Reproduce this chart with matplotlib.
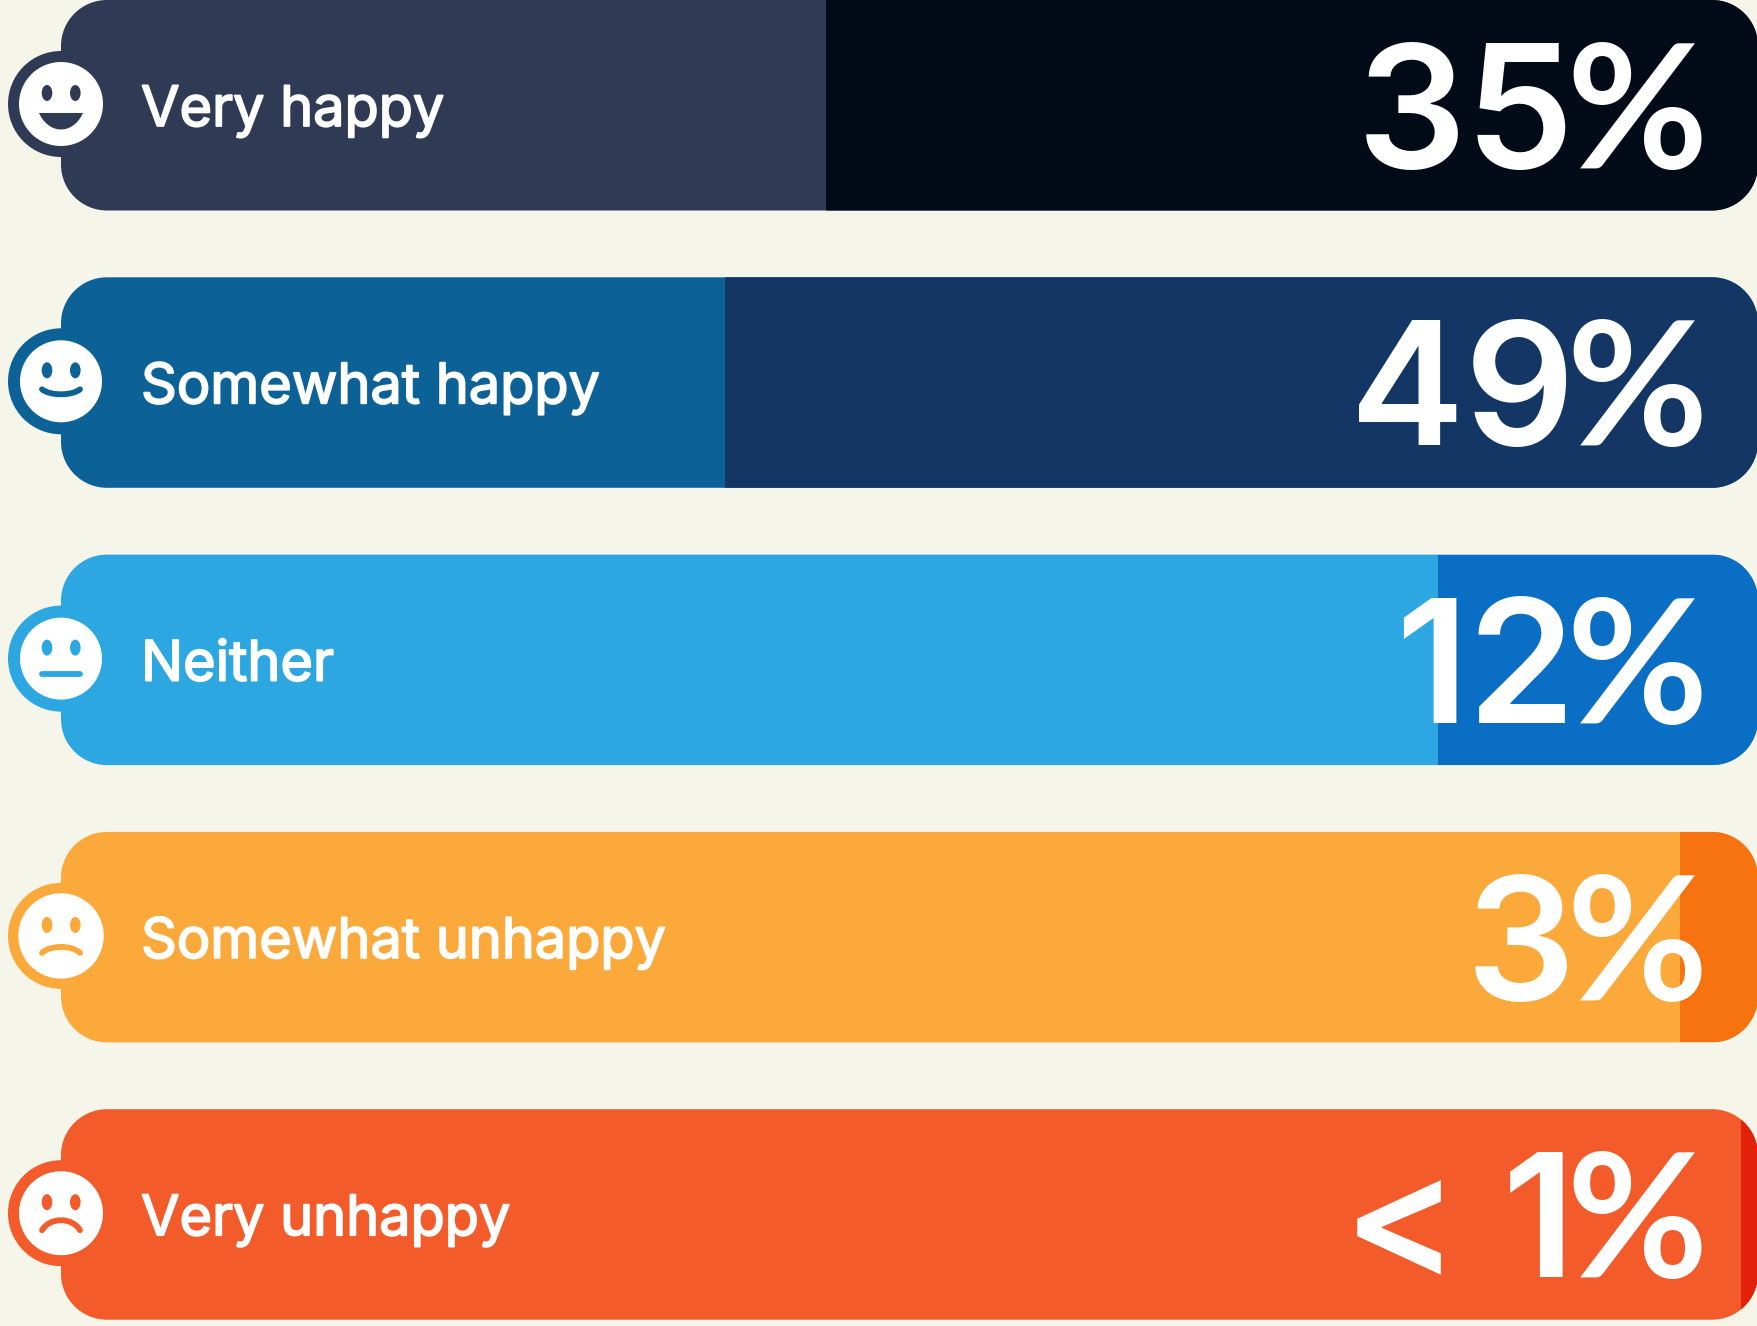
import matplotlib
matplotlib.use("Agg")
import matplotlib.pyplot as plt
import matplotlib.patheffects as pe
from matplotlib.patches import Circle, Ellipse, PathPatch
from matplotlib.path import Path

categories = ["Very happy", "Somewhat happy", "Neither", "Somewhat unhappy", "Very unhappy"]
value_labels = ["35%", "49%", "12%", "3%", "< 1%"]
# width of the darker end of each bar as a share of the bar
dark_share = [0.549, 0.609, 0.1885, 0.046, 0.010]
moods = ["grin", "smile", "flat", "sad", "frown"]

light_colors = ["#2F3B54", "#0C6197", "#2CA7E2", "#FBA93B", "#F35B2B"]
dark_colors = ["#040B18", "#133665", "#0A6FC4", "#F6730F", "#E3210A"]
BG = "#F5F5EA"

W, H = 1758, 1326
LEFT, RIGHT = 61, 1758
BAR_H, PITCH, RAD = 210.5, 277.3, 46
FIRST_TOP = 0
FACE_R = [42, 41, 41, 42.7, 42]
HALO_R = 53
KAPPA = 0.5523


def rounded(x0, y0, x1, y1, r):
    k = r * (1 - KAPPA)
    v = [(x0 + r, y0), (x1 - r, y0),
         (x1 - k, y0), (x1, y0 + k), (x1, y0 + r),
         (x1, y1 - r),
         (x1, y1 - k), (x1 - k, y1), (x1 - r, y1),
         (x0 + r, y1),
         (x0 + k, y1), (x0, y1 - k), (x0, y1 - r),
         (x0, y0 + r),
         (x0, y0 + k), (x0 + k, y0), (x0 + r, y0),
         (x0 + r, y0)]
    c = [Path.MOVETO, Path.LINETO,
         Path.CURVE4, Path.CURVE4, Path.CURVE4,
         Path.LINETO,
         Path.CURVE4, Path.CURVE4, Path.CURVE4,
         Path.LINETO,
         Path.CURVE4, Path.CURVE4, Path.CURVE4,
         Path.LINETO,
         Path.CURVE4, Path.CURVE4, Path.CURVE4,
         Path.CLOSEPOLY]
    return Path(v, c)


def face(ax, cx, cy, r, color, mood):
    z = 6
    ax.add_patch(Circle((cx, cy), HALO_R, fc=color, ec="none", zorder=z - 1))
    ax.add_patch(Circle((cx, cy), r, fc="white", ec="none", zorder=z))
    for dx in (-14, 14.3):
        ax.add_patch(Ellipse((cx + dx, cy - 11), 10.6, 16, fc=color, ec="none", zorder=z + 1))
    stroke = dict(fc="none", ec=color, lw=4.2, capstyle="round", zorder=z + 1)
    if mood == "grin":
        top = cy + 9
        p = Path([(cx - 22, top), (cx + 22, top), (cx + 12, top + 22), (cx - 12, top + 22), (cx - 22, top), (cx - 22, top)],
                 [Path.MOVETO, Path.LINETO, Path.CURVE4, Path.CURVE4, Path.CURVE4, Path.CLOSEPOLY])
        ax.add_patch(PathPatch(p, fc=color, ec="none", zorder=z + 1))
    elif mood == "flat":
        ax.plot([cx - 19, cx + 19], [cy + 15, cy + 15], color=color, lw=4.2,
                solid_capstyle="round", zorder=z + 1)
    else:
        y_end, y_mid = {"smile": (8, 13), "sad": (17, 11), "frown": (17, 7)}[mood]
        y_c = y_mid + (y_mid - y_end) / 3
        p = Path([(cx - 19, cy + y_end), (cx - 11, cy + y_c), (cx + 11, cy + y_c), (cx + 19, cy + y_end)],
                 [Path.MOVETO, Path.CURVE4, Path.CURVE4, Path.CURVE4])
        ax.add_patch(PathPatch(p, **stroke))


fig = plt.figure(figsize=(W / 100, H / 100), dpi=100, facecolor=BG)
ax = fig.add_axes([0, 0, 1, 1])
ax.set_xlim(0, W)
ax.set_ylim(H, 0)
ax.axis("off")

track = RIGHT - LEFT
for i, cat in enumerate(categories):
    top = FIRST_TOP + i * PITCH
    bottom = top + BAR_H
    outline = rounded(LEFT, top, RIGHT, bottom, RAD)
    ax.add_patch(PathPatch(outline, fc=light_colors[i], ec="none", zorder=1))
    w = dark_share[i] * track
    bars = ax.barh(top + BAR_H / 2, w, left=RIGHT - w, height=BAR_H, color=dark_colors[i], zorder=2)
    bars[0].set_clip_path(PathPatch(outline, transform=ax.transData))
    ax.text(141, top + 126, cat, color="white", fontsize=40.2, family="Inter",
            ha="left", va="baseline", zorder=4,
            path_effects=[pe.withStroke(linewidth=1.3, foreground="white")])
    number = value_labels[i].rstrip("%")
    ax.text(1575, top + 168, number, color="white", fontsize=124, family="Inter", weight=600,
            ha="right", va="baseline", zorder=4)
    ax.text(1708, top + 168, "%", color="white", fontsize=124, family="Lato", weight="bold",
            ha="right", va="baseline", zorder=4)
    face(ax, 61, top + 104, FACE_R[i], light_colors[i], moods[i])

fig.savefig("out.png", dpi=100, facecolor=BG)
